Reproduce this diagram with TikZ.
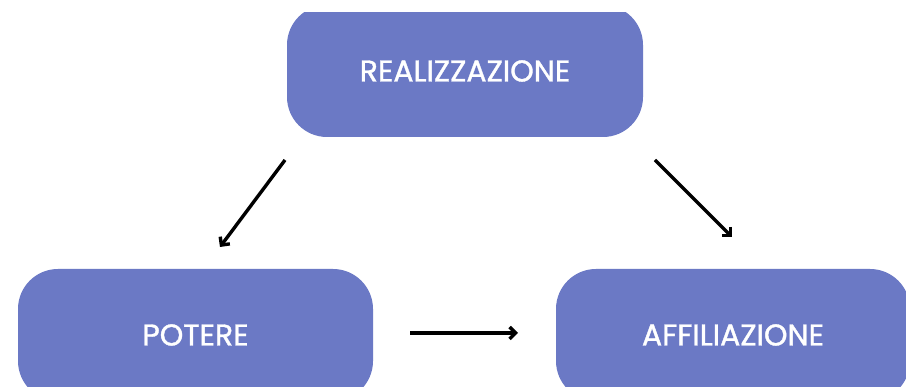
\documentclass[tikz,border=0pt]{standalone}
\usepackage{fontspec}
\setmainfont{Poppins}
\newfontfamily\boxfont{Poppins}[UprightFeatures={FakeBold=1.2}]
\usetikzlibrary{arrows.meta}
\definecolor{boxblue}{HTML}{6B79C5}
\tikzset{
  boxnode/.style={rectangle, rounded corners=40pt, fill=boxblue, draw=none,
    minimum width=355pt, minimum height=132pt, inner sep=0pt,
    text=white, font=\boxfont\fontsize{30}{32}\selectfont},
  conn/.style={draw=black, line width=3.4pt, -{Straight Barb[length=6pt,width=12pt,line width=3.4pt]}}
}
\begin{document}
\begin{tikzpicture}[x=1pt,y=1pt]
\useasboundingbox (0,0) rectangle (906,387);
\fill[white] (0,0) rectangle (906,387);
\begin{scope}
\clip (0,0) rectangle (906,374);
\node[boxnode, minimum width=356pt] (real) at (465,316) {REALIZZAZIONE};
\node[boxnode] (pot) at (195.5,52) {POTERE};
\node[boxnode, minimum width=354pt] (aff) at (733,52) {AFFILIAZIONE};
\end{scope}
\coordinate (l1) at (285,227);
\coordinate (l2) at (220,140);
\coordinate (r1) at (655,227);
\coordinate (r2) at (732,150);
\coordinate (h1) at (410,54);
\coordinate (h2) at (518,54);
\draw[conn] (l1) -- (l2);
\draw[conn] (r1) -- (r2);
\draw[conn] (h1) -- (h2);
\end{tikzpicture}
\end{document}
